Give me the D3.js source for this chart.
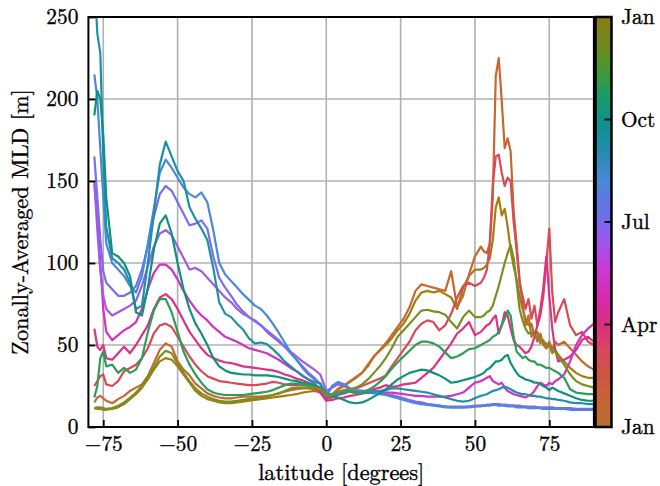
<!DOCTYPE html>
<html><head><meta charset="utf-8">
<script src="https://cdn.jsdelivr.net/npm/d3@7"></script>
<style>
body{margin:0;background:#fff}
</style>
</head><body>
<svg id="chart" width="660" height="486"></svg>
<script>
// latitude grid (degrees)
const lat = [-78,-77,-76,-75,-74,
 -72,-70,-68,-66,-64,-62,-60,
 -58,-56,-54,-52,-50,-48,-46,-44,-42,-40,
 -38,-36,-34,-32,-30,-28,-26,-24,-22,-20,
 -18,-16,-14,-12,-10,-8,-6,-4,-2,0,
 2,4,6,8,10,12,14,16,18,20,
 22,24,26,28,30,32,34,36,38,40,
 42,44,46,48,50,
 52,53,54,55,56,57,58,59,60,61,62,63,64,
 65,66,67,68,69,70,71,72,73,74,75,76,77,78,
 80,82,84,86,88,90];

// zonally averaged MLD [m], one array per month
const mldJan = [12,11,11,10.5,10.5, 11,12,14,17,20,24,29, 35,40,42,41,37,32,27,22,19,17,
 16,15,14.5,14.5,15,15.5,16,16.5,17,17.5, 18,18.5,19,19.5,20,21,21.5,22,21,17,
 19.5,23,25,27.5,30,33,38,43,46.5,50, 54,59,63,69,77,82,83,82,83,81, 79,72,85,92,96,
 96,97,99,103,114,134,140,129,133,122,108,98,90, 80,72,66,62,63,56,58,51,53,48,50,45,47,44, 40,36,33,31,30,30];
const mldFeb = [15,18,19,17.5,16, 14.5,17,19,22,24,26,31, 39,47,51,49,40,35,31.5,26.5,23.5,20.5,
 19,18,17.5,17.5,18,18.5,18.5,18.5,18.5,19, 19.5,20.5,21.5,22.5,23,23.5,23.5,23,21,18,
 20,23.5,25.5,28,30.5,33,37,43,47,51, 56,61,66,73,83,87,86,85,84,83, 95,73,80,93,104,
 110,107,106,112,140,214,225,199,170,176,168,132,112, 90,75,62,68,55,58,52,57,50,48,52,47,52,50, 52,48,44,40,37,35];
const mldMar = [25,28,31,32,26, 25,28,34,36,38,42,48, 57,62,63,61,55,49,43,38,34,31,
 29.5,28,27.5,27,26.5,26,25.5,25.5,26,26.5, 27.5,27,26,25.5,25.5,25.5,25,24,21,17,
 18,19.5,20.5,22,23.5,25,26.5,28,29.5,31.5, 37,42,47,52,59,63,65,64,59,62, 69,79,86,88,86,
 88,91,96,112,148,165,166,155,147,152,150,125,108, 88,80,72,78,66,74,62,68,80,100,121,82,64,70, 78,62,56,58,52,50];
const mldApr = [60,49,47,50,42, 41,45,49,45,50,56,62, 72,79,81,78,72,65,58,53,48,44,
 42,40.5,39.5,39,38,37,36.5,36,35.5,35, 34.5,33.5,32,31,29.5,28.5,27,25,21,16,
 16.5,17.5,18,19,19.5,20.5,21.5,23,24,25.5, 24.5,25,26,26.5,27,30,33,36,41,46, 51,57,60,64,56,
 58,60,62,63,66,68,57,62,70,68,60,53,50, 49,47,45,46,49,55,62,72,85,104,80,60,47,40, 41,43,47,53,55,52];
const mldMay = [148,128,100,72,58, 53,56,59,61,64,72,84, 94,99,99,96,90,83,77,72,68,65,
 61,58,55,53.5,52,50,48,47,46,45, 43,41,38.5,36,34,31.5,29,26.5,23,18,
 20,21,21.5,22,22,22,22,22,21.5,21, 21,20.5,20,19.5,19,19,18.5,18.5,18.5,18.5, 19,20,21,24,27,
 28,29,30,31,28,27,26,27,24,22,21,20,19.5, 19,18.5,18,19,20,22,25,27,26,25,27,26,28,29, 32,40,50,56,60,63];
const mldJun = [150,120,95,80,72, 68,70,72,74,77,86,98, 110,118,120,117,110,103,96,97,95,91,
 87,83,79,76,72,69,67,65,62,58, 55,52,49,46,43,40,37.5,35,32,22,
 24,26,25,23,22,21.5,21.5,21,20.5,20, 19.5,18.5,17.5,16.5,15.5,15,14,13.5,13,12.5, 12.5,12.5,12.5,12.5,13,
 13,13,13.5,13.5,14,14,14,13.5,13.5,13.5,13,13,13, 13,12.5,12.5,12.5,12.5,12.5,12,12,12,12,12,12,11.5,11.5, 11.5,11.5,11,11,11,11];
const mldJul = [165,140,115,95,88, 84,80,80,82,86,96,110, 128,142,147,144,137,130,123,124,126,121,
 104,91,85,80,74.5,70.5,67,64.5,62,59, 56,53,49,45,41,37,33,30,26,19,
 25,27.5,26,23.5,22.5,22,21.5,21,20.5,20, 19,18,17,16,15,14.5,14,13.5,13,12.5, 12,12,12,12.5,12.5,
 13,13,13.5,13.5,13.5,14,13.5,13.5,13.5,13,13,13,12.5, 12.5,12.5,12.5,12,12,12,12,11.5,11.5,11.5,11.5,11.5,11,11, 11,11,10.5,10.5,10.5,10.5];
const mldAug = [215,200,170,140,112, 100,96,92,86,82,92,112, 133,155,163,158,152,146,142,140,143,137,
 120,100,93,89,85,81,77.5,74,72,68, 63,57.5,51.5,45.5,41,36,32,29,26.5,19,
 25,27,25.5,23.5,22,21.5,21,20.5,20,19.5, 18.5,17.5,16.5,15.5,14.5,14,13.5,13,12.5,12, 12,12,12,12,12.5,
 12.5,13,13,13,13.5,13.5,13,13,13,12.5,12.5,12.5,12, 12,12,12,11.5,11.5,11.5,11.5,11.5,11,11,11,11,11,11, 11,10.5,10.5,10.5,10.5,10.5];
const mldSep = [275,240,228,165,122, 103,100,96,88,72,74,100, 130,160,174,165,156,150,134,127,121,114,
 97,76,69,67,63,59.5,54,51,51.5,50.5, 47.5,44,40,37,34,31,29,27.5,26.5,20,
 19,20,21,21.5,21,20.5,21,21.5,22,22.5, 23.5,23.5,23,22.5,22,21.5,21,20,19,18, 17,16,15.5,16,17.5,
 19,19.5,20,21,22,22.5,23,24,24.5,24,23,22,21, 20.5,20,20,19.5,19,19,18.5,18.5,18,17.5,17.5,17,17,16.5, 16,15,14.5,14.5,14,14];
const mldOct = [190,205,200,178,140, 106,104,100,92,70,68,85, 108,124,129,118,100,84,72,63,57,50,
 42,37,34.5,33,32.5,32,32,31.5,31.5,31.5, 31,30.5,29.5,28.5,28,27,26.5,25.5,24,20,
 18.5,18,16.5,15,14.5,15,16.5,18.5,20.5,23, 26,29,31,33,34,35,34.5,33,31.5,29.5, 27,27.5,28.5,29.5,30.5,
 32,33,35,36,38,40,40,41,43,44,39,36,33, 31,30,29,28.5,28,27,27,26,25,24,22.5,24,23,22, 20.5,19,17.5,16.5,16,16];
const mldNov = [18,25,42,46,37, 38,33,36,33,35,42,58, 71,78,78,70,58,46,38,32,27,23,
 21,20,19.5,19.5,19.5,19.5,20,20.5,21,21.5, 22.5,24,25.5,26.5,26.5,26,25.5,24.5,23.5,20,
 20,21.5,22,21.5,20.5,21,22.5,24.5,27.5,31, 35.5,39.5,43,46.5,50,52,52,51,49,45.5, 42,43,45,47.5,48,
 50,51,52,53,55,56,58,62,66,71,68,55,46, 44,42,43,41,40,40,38,38,37,36,36,35,34,33, 30,23,21,20.5,20,20];
const mldDec = [11,12,12,11.5,11, 11.5,13,15,18,21,25,31, 36,43,46.5,45,38.5,33,28,23.5,20.5,18.5,
 17,16,15.5,15.5,16,16.5,17,17.5,18,18.5, 19.5,20.5,22,23.5,24,24,24,24,23,19,
 20,21.5,22.5,23,24,26,29,33,37,42, 48,55,59,63,67,71,71.5,70.5,70,68.5, 64,60,67,71,67,
 67,68,70,71,74,80,86,93,100,106,111,103,88, 72,65,60,57,58,56,55,54,52,51,50,48,46,43, 38,32,28,26,25,24];

const months = ["Jan","Feb","Mar","Apr","May","Jun","Jul","Aug","Sep","Oct","Nov","Dec"];
const lineColors = ["#a47d10","#c6682f","#d74b57","#df3088","#d033c4","#a35ae6",
                    "#786ef0","#4a89da","#218faa","#0e917f","#2e9d57","#7a8f22"];
const xTicks = [-75,-50,-25,0,25,50,75];
const yTicks = [0,50,100,150,200,250];
const cbLabels = ["Jan","Apr","Jul","Oct","Jan"];
const cbStops = [[0,"#b8702a"],[0.082,"#c8603a"],[0.147,"#d05048"],[0.188,"#d84660"],[0.249,"#d83080"],
 [0.31,"#d82aa8"],[0.391,"#c83ad8"],[0.456,"#9a58f0"],[0.521,"#6a70e8"],[0.602,"#4a88d8"],
 [0.659,"#2a8ab8"],[0.732,"#109090"],[0.798,"#159a70"],[0.854,"#3a9a40"],[0.92,"#6a8a20"],[1,"#8a7d12"]];

const series = [mldJan,mldFeb,mldMar,mldApr,mldMay,mldJun,mldJul,mldAug,mldSep,mldOct,mldNov,mldDec];

const FONT = '"Latin Modern Roman"';
const L=88.4, R=593.9, T=17, B=427;
const svg = d3.select("#chart");
const x = d3.scaleLinear().domain([-80,90]).range([L,R]);
const y = d3.scaleLinear().domain([0,250]).range([B,T]);

// fit a font size so a sample string reaches a target width
function fitSize(sample, target, base){
  const t = svg.append("text").style("font-family",FONT).style("font-size",base+"px").text(sample);
  const w = t.node().getComputedTextLength();
  t.remove();
  const s = w>0 ? base*target/w : base;
  return Math.max(15, Math.min(24, s));
}
const tickSize = fitSize("\u221275", 38, 22);
const labSize = fitSize("latitude [degrees]", 166, 22);
const textInk = sel => sel.attr("fill","#000").attr("stroke","#000").attr("stroke-width",0.35);

// grid
const grid = svg.append("g").attr("stroke","#b0b0b0").attr("stroke-width",1.6);
grid.selectAll("line.gx").data(xTicks).join("line")
  .attr("x1",d=>x(d)).attr("x2",d=>x(d)).attr("y1",T).attr("y2",B);
grid.selectAll("line.gy").data(yTicks.filter(d=>d>0&&d<250)).join("line")
  .attr("x1",L).attr("x2",R).attr("y1",d=>y(d)).attr("y2",d=>y(d));

// lines
svg.append("clipPath").attr("id","clip").append("rect")
  .attr("x",L).attr("y",T).attr("width",R-L).attr("height",B-T);
const line = d3.line().x((v,i)=>x(lat[i])).y(v=>y(v));
svg.append("g").attr("clip-path","url(#clip)")
  .selectAll("path").data(series).join("path")
  .attr("d",line).attr("fill","none")
  .attr("stroke",(d,i)=>lineColors[i]).attr("stroke-width",2.2)
  .attr("stroke-linejoin","round");

// axes
const xAxis = d3.axisBottom(x).tickValues(xTicks).tickSizeInner(-7).tickSizeOuter(0).tickPadding(9);
const gx = svg.append("g").attr("transform",`translate(0,${B})`).call(xAxis);
const yAxis = d3.axisLeft(y).tickValues(yTicks).tickSizeInner(-7).tickSizeOuter(0).tickPadding(10);
const gy = svg.append("g").attr("transform",`translate(${L},0)`).call(yAxis);
[gx,gy].forEach(g=>{
  g.attr("font-family",null).attr("font-size",null);
  g.select(".domain").remove();
  g.selectAll(".tick line").attr("stroke","#000").attr("stroke-width",1.8);
  g.selectAll(".tick text").style("font-size",tickSize+"px").style("font-family",FONT).call(textInk);
});

// frame
svg.append("rect").attr("x",L).attr("y",T).attr("width",R-L).attr("height",B-T)
  .attr("fill","none").attr("stroke","#000").attr("stroke-width",2);

// axis labels
svg.append("text").attr("x",(L+R)/2).attr("y",480).attr("text-anchor","middle")
  .style("font-family",FONT).style("font-size",labSize+"px").call(textInk).text("latitude [degrees]");
svg.append("text").attr("transform",`translate(28,${(T+B)/2}) rotate(-90)`).attr("text-anchor","middle")
  .style("font-family",FONT).style("font-size",labSize+"px").call(textInk).text("Zonally-Averaged MLD [m]");

// colorbar
const defs = svg.append("defs");
const grad = defs.append("linearGradient").attr("id","cb").attr("x1",0).attr("y1",1).attr("x2",0).attr("y2",0);
grad.selectAll("stop").data(cbStops).join("stop")
  .attr("offset",d=>d[0]).attr("stop-color",d=>d[1]);
const cbX = 595.5, cbW = 16;
svg.append("rect").attr("x",cbX).attr("y",T).attr("width",cbW).attr("height",B-T)
  .attr("fill","url(#cb)").attr("stroke","#000").attr("stroke-width",2.5);
const cbScale = d3.scaleLinear().domain([0,cbLabels.length-1]).range([B,T]);
svg.append("g").selectAll("line").data(cbLabels.slice(1,-1)).join("line")
  .attr("x1",cbX+cbW-7).attr("x2",cbX+cbW).attr("y1",(d,i)=>cbScale(i+1)).attr("y2",(d,i)=>cbScale(i+1))
  .attr("stroke","#000").attr("stroke-width",1.8);
svg.append("g").selectAll("text").data(cbLabels).join("text")
  .attr("x",621).attr("y",(d,i)=>cbScale(i)).attr("dy","0.35em")
  .style("font-family",FONT).style("font-size",tickSize+"px").call(textInk).text(d=>d);
</script>
</body></html>
